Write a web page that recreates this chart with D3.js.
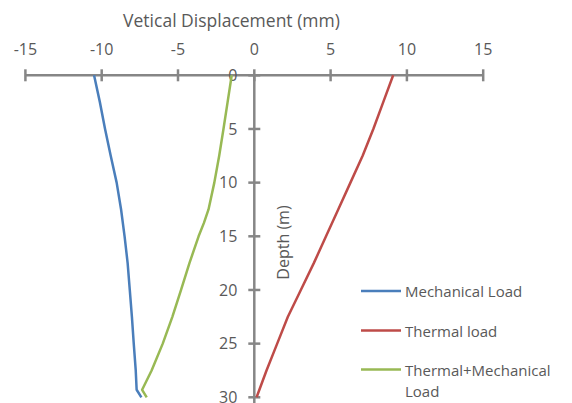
<!DOCTYPE html>
<html>
<head>
<meta charset="utf-8">
<script src="https://cdn.jsdelivr.net/npm/d3@7"></script>
<style>
  html, body { margin: 0; padding: 0; background: #fff; }
  svg { display: block; font-family: "Open Sans", "Noto Sans", sans-serif; }
</style>
</head>
<body>
<svg id="chart" width="572" height="403"></svg>
<script>
// ---- Data ----
const xTicks = [-15, -10, -5, 0, 5, 10, 15];
const yTicks = [0, 5, 10, 15, 20, 25, 30];

const mechDepth = [0, 2.5, 5, 7.5, 10, 12.5, 15, 17.5, 20, 22.5, 25, 27.5, 29.3, 30];
const mechDisp  = [-10.5, -10.12, -9.78, -9.41, -9.02, -8.73, -8.5, -8.3, -8.16, -8.02, -7.9, -7.77, -7.71, -7.4];

const thermDepth = [0, 2.5, 5, 7.5, 10, 12.5, 15, 17.5, 20, 22.5, 25, 27.5, 30];
const thermDisp  = [9.1, 8.45, 7.8, 7.1, 6.3, 5.5, 4.7, 3.9, 3.05, 2.2, 1.5, 0.8, 0.15];

const combDepth = [0, 2.5, 5, 7.5, 10, 12.5, 13.75, 15, 17.5, 20, 22.5, 25, 27.5, 29.3, 30];
const combDisp  = [-1.48, -1.75, -2.02, -2.3, -2.62, -3.0, -3.3, -3.65, -4.25, -4.8, -5.37, -6.0, -6.73, -7.35, -7.05];

const seriesNames = ["Mechanical Load", "Thermal load", "Thermal+Mechanical Load"];
const seriesColors = ["#4A7EBB", "#BE4B48", "#98B954"];

const xTitle = "Vetical Displacement (mm)";
const yTitle = "Depth (m)";

// ---- Chart ----
const svg = d3.select("#chart");
const axisColor = "#868686";
const textColor = "#595959";

const x = d3.scaleLinear().domain([-15, 15]).range([25.4, 483.2]);
const y = d3.scaleLinear().domain([0, 30]).range([75.3, 397.3]);

// X axis (top, at depth 0)
const xAxisG = svg.append("g").attr("transform", `translate(0,${y(0)})`);
xAxisG.append("line")
  .attr("x1", x(-15)).attr("x2", x(15))
  .attr("stroke", axisColor).attr("stroke-width", 2.5);
xAxisG.selectAll("line.tick").data(xTicks).enter().append("line")
  .attr("class", "tick")
  .attr("x1", d => x(d)).attr("x2", d => x(d))
  .attr("y1", -6).attr("y2", 6)
  .attr("stroke", axisColor).attr("stroke-width", 2.5);
svg.selectAll("text.xt").data(xTicks).enter().append("text")
  .attr("class", "xt")
  .attr("x", d => x(d)).attr("y", 55)
  .attr("text-anchor", "middle")
  .attr("fill", textColor).attr("font-size", 16)
  .text(d => d);

// Y axis (at displacement 0)
const yAxisG = svg.append("g").attr("transform", `translate(${x(0)},0)`);
yAxisG.append("line")
  .attr("y1", y(0)).attr("y2", y(30) + 8)
  .attr("stroke", axisColor).attr("stroke-width", 2.5);
yAxisG.selectAll("line.tick").data(yTicks).enter().append("line")
  .attr("class", "tick")
  .attr("y1", d => y(d)).attr("y2", d => y(d))
  .attr("x1", -6).attr("x2", 6)
  .attr("stroke", axisColor).attr("stroke-width", 2.5);
svg.selectAll("text.yt").data(yTicks).enter().append("text")
  .attr("class", "yt")
  .attr("x", x(0) - 17).attr("y", d => y(d))
  .attr("dy", "0.36em")
  .attr("text-anchor", "end")
  .attr("fill", textColor).attr("font-size", 16)
  .text(d => d);

// Titles
svg.append("text")
  .attr("x", 231.5).attr("y", 27)
  .attr("text-anchor", "middle")
  .attr("fill", textColor).attr("font-size", 17.5)
  .text(xTitle);
svg.append("text")
  .attr("transform", `translate(289,242.5) rotate(-90)`)
  .attr("text-anchor", "middle")
  .attr("fill", textColor).attr("font-size", 16)
  .text(yTitle);

// Lines
const seriesData = [
  d3.zip(mechDisp, mechDepth),
  d3.zip(thermDisp, thermDepth),
  d3.zip(combDisp, combDepth)
];
const line = d3.line().x(d => x(d[0])).y(d => y(d[1]));
svg.selectAll("path.series").data(seriesData).enter().append("path")
  .attr("class", "series")
  .attr("d", line)
  .attr("fill", "none")
  .attr("stroke", (d, i) => seriesColors[i])
  .attr("stroke-width", 2.5)
  .attr("stroke-linejoin", "round");

// Legend
const legendY = [291, 330.5, 369.5];
const legend = svg.append("g");
seriesNames.forEach((name, i) => {
  legend.append("line")
    .attr("x1", 361).attr("x2", 401)
    .attr("y1", legendY[i]).attr("y2", legendY[i])
    .attr("stroke", seriesColors[i]).attr("stroke-width", 2.5);
  const t = legend.append("text")
    .attr("x", 405).attr("y", legendY[i] + 6)
    .attr("fill", textColor).attr("font-size", 15);
  if (i === 2) {
    t.append("tspan").attr("x", 405).text("Thermal+Mechanical");
    t.append("tspan").attr("x", 405).attr("dy", 21.5).text("Load");
  } else {
    t.text(name);
  }
});
</script>
</body>
</html>
